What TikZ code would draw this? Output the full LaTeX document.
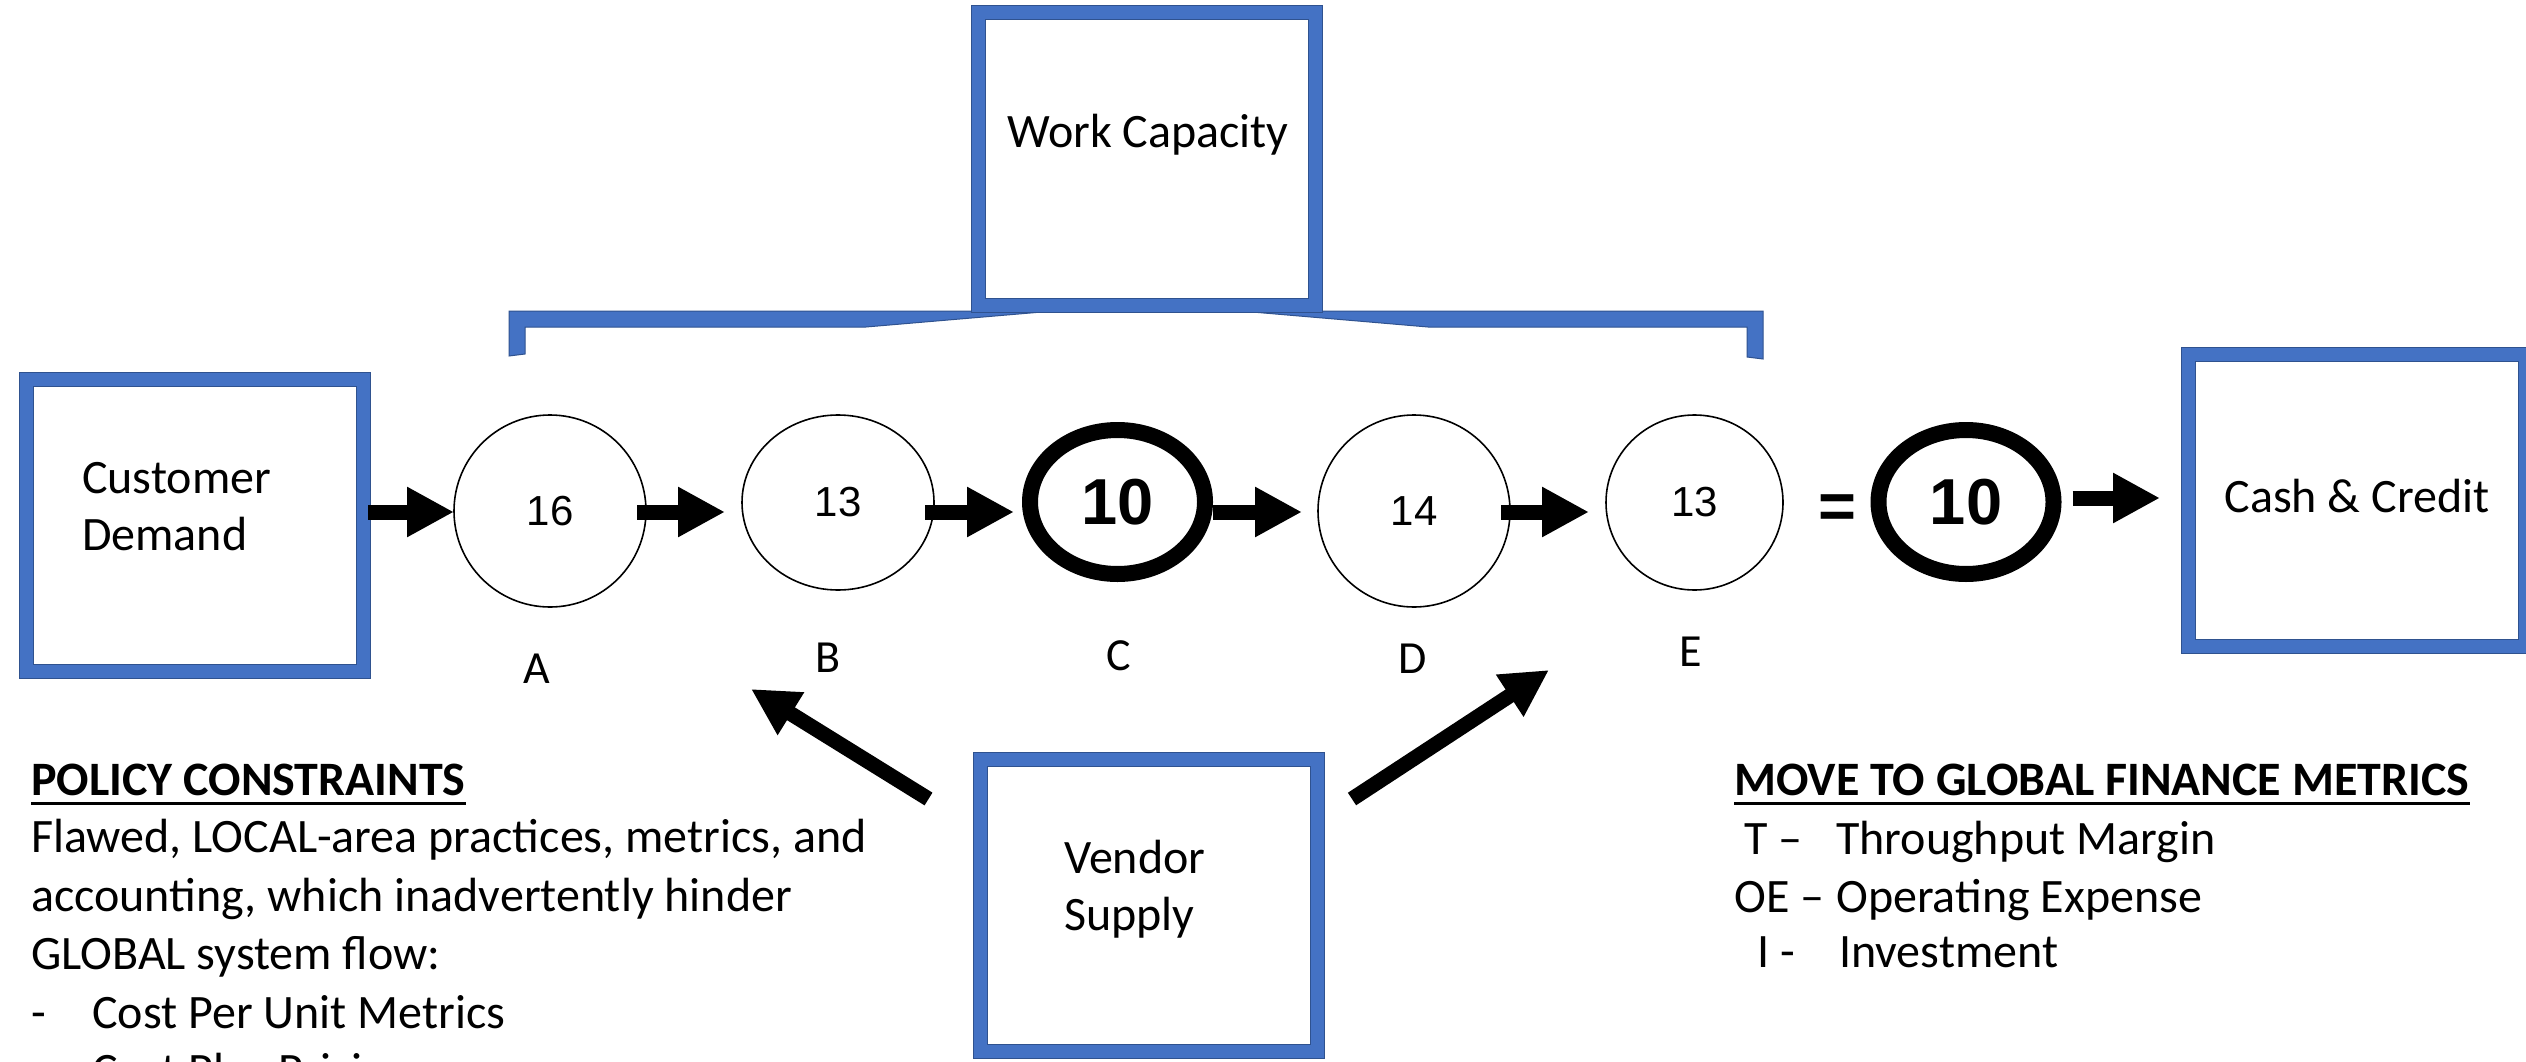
\documentclass[tikz,border=0pt]{standalone}
\usepackage{fontspec}
\setmainfont{Carlito}
\newfontfamily\arialfont{Liberation Sans}
\usetikzlibrary{arrows.meta,shapes.geometric}
\definecolor{boxblue}{HTML}{4472C4}
\definecolor{edgeblue}{HTML}{2F528F}

\begin{document}
\begin{tikzpicture}[x=1pt,y=-1pt,
  bluebox/.style={rectangle, draw=edgeblue, line width=1pt, double=boxblue,
    double distance=13pt, fill=white, inner sep=0pt, outer sep=0pt,
    minimum width=337pt, minimum height=292pt},
  txt/.style={font=\fontsize{48}{58}\selectfont, inner sep=0pt, anchor=base west},
  heading/.style={font=\bfseries\fontsize{48}{58}\selectfont, inner sep=0pt, anchor=base west},
  uline/.style={line width=3pt},
  lbl/.style={font=\fontsize{46}{55}\selectfont, inner sep=0pt, anchor=base},
  stage/.style={ellipse, draw=black, line width=1.6pt, inner sep=0pt, outer sep=0pt,
    font=\arialfont\fontsize{42}{50}\selectfont},
  bottleneck/.style={ellipse, draw=black, line width=16pt, inner sep=0pt, outer sep=0pt,
    minimum width=175pt, minimum height=144pt,
    font=\arialfont\bfseries\fontsize{65}{78}\selectfont},
  flow/.style={line width=15pt, -{Triangle[length=47pt,width=47pt]}}
]
\useasboundingbox (0,0) rectangle (2526,1062);
\fill[white] (0,0) rectangle (2526,1062);
\clip (0,0) rectangle (2526,1062);

% bracket spanning the stages, joined to the capacity box
\filldraw[fill=boxblue, draw=edgeblue, line width=1pt, line join=miter]
  (509,356) -- (509,311) -- (1763,311) -- (1763,359) -- (1747,357) -- (1747,327)
  -- (1428,327) -- (1252,312) -- (1042,312) -- (866,327) -- (525,327) -- (525,354) -- cycle;

% boxes
\node[bluebox] (wc) at (1147,159) {};
\node[txt, anchor=base] (wct) at (1148,147) {Work Capacity};

\node[bluebox] (cd) at (195,525.5) {};
\node[txt] (cdt1) at (82,493) {Customer};
\node[txt] (cdt2) at (82,550) {Demand};

\node[bluebox] (cc) at (2357,500.5) {};
\node[txt, anchor=base] (cct) at (2357,512) {Cash \& Credit};

\node[bluebox] (vs) at (1149,905.5) {};
\node[txt] (vst1) at (1064,873) {Vendor};
\node[txt] (vst2) at (1064,930) {Supply};

% process stages
\node[stage, minimum width=192pt, minimum height=192pt] (A) at (550,511) {16};
\node[stage, minimum width=192pt, minimum height=175pt] (B) at (838,502.5) {13};
\node[bottleneck] (C) at (1117.5,502) {10};
\node[stage, minimum width=192pt, minimum height=192pt] (D) at (1414,511) {14};
\node[stage, minimum width=177pt, minimum height=175pt] (E) at (1694.5,502.5) {13};
\node[font=\arialfont\bfseries\fontsize{65}{78}\selectfont, inner sep=0pt] (eq) at (1837,512) {=};
\node[bottleneck] (F) at (1966,502) {10};

\node[lbl] (la) at (537,683) {A};
\node[lbl] (lb) at (828,672) {B};
\node[lbl] (lc) at (1119,670) {C};
\node[lbl] (ld) at (1413,673) {D};
\node[lbl] (le) at (1691,666) {E};

% flow arrows
\coordinate (axis) at (0,512);
\coordinate (axis2) at (0,498);
\draw[flow, shorten <=4.5pt] (cd.east |- axis) -- (A.west |- axis);
\draw[flow, shorten <=-9pt, shorten >=17pt] (A.east |- axis) -- (B.west |- axis);
\draw[flow, shorten <=-9pt, shorten >=16pt] (B.east |- axis) -- (C.west |- axis);
\draw[flow, shorten <=8pt, shorten >=16pt] (C.east |- axis) -- (D.west |- axis);
\draw[flow, shorten <=-9pt, shorten >=17pt] (D.east |- axis) -- (E.west |- axis);
\draw[flow, shorten <=19pt, shorten >=28.5pt] (F.east |- axis2) -- (cc.west |- axis2);

% supply arrows
\coordinate (tipB) at (751,689);
\coordinate (tipE) at (1549,670);
\draw[flow] ([shift={(-52,39.5)}]vs.north west) -- (tipB);
\draw[flow] ([shift={(34.5,39.5)}]vs.north east) -- (tipE);

% policy constraints text
\node[heading] (pc) at (31,795) {POLICY CONSTRAINTS};
\draw[uline] ([yshift=-8pt]pc.base west) -- ([yshift=-8pt]pc.base east);
\node[txt] (p1) at (31,852) {Flawed, LOCAL-area practices, metrics, and};
\node[txt] (p2) at (31,911) {accounting, which inadvertently hinder};
\node[txt] (p3) at (31,969) {GLOBAL system flow:};
\node[txt] (p4d) at (31,1028) {-};
\node[txt] (p4) at (92,1028) {Cost Per Unit Metrics};
\node[txt] (p5) at (92,1086) {Cost Plus Pricing};

% finance metrics text
\node[heading] (gm) at (1734,795) {MOVE TO GLOBAL FINANCE METRICS};
\draw[uline] ([yshift=-8pt]gm.base west) -- ([yshift=-8pt]gm.base east);
\node[txt] (m1a) at (1744,854) {T –};
\node[txt] (m1) at (1836,854) {Throughput Margin};
\node[txt] (m2a) at (1734,912) {OE –};
\node[txt] (m2) at (1836,912) {Operating Expense};
\node[txt] (m3a) at (1757,967) {I -};
\node[txt] (m3) at (1839,967) {Investment};
\end{tikzpicture}
\end{document}
